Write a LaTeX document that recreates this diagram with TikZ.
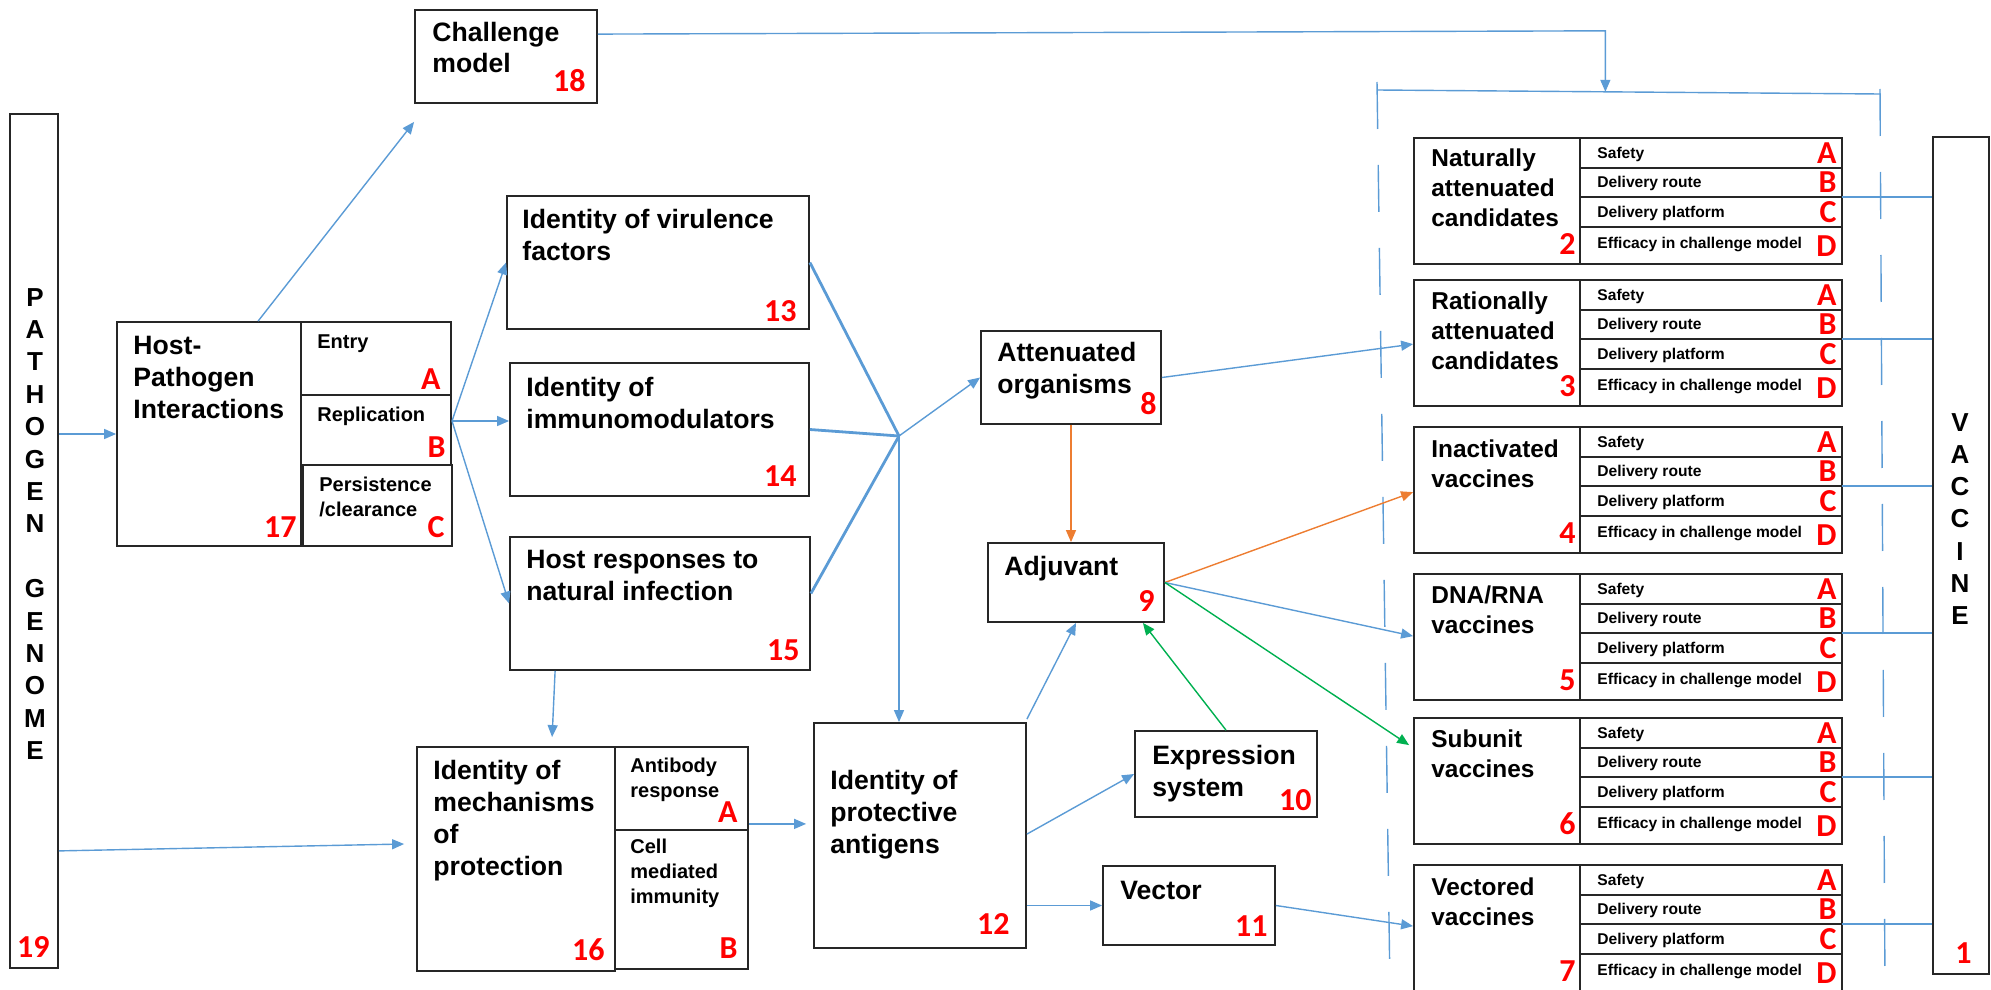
\documentclass[tikz,border=0pt]{standalone}
\usepackage{fontspec}
\setmainfont{Liberation Sans}
\newfontfamily\numfont{Carlito}
\usetikzlibrary{arrows.meta,fit,calc}

\definecolor{lnblue}{HTML}{5B9BD5}
\definecolor{lnorange}{HTML}{ED7D31}
\definecolor{lngreen}{HTML}{00B050}

\begin{document}
\begin{tikzpicture}[x=0.5pt,y=-0.5pt,
  box/.style     = {draw=black!85, line width=0.9pt, inner sep=0pt},
  ttl/.style     = {anchor=base west, align=left, inner sep=0pt,
                    font=\fontsize{13.3}{15.8}\selectfont\bfseries},
  sml/.style     = {anchor=base west, align=left, inner sep=0pt,
                    font=\fontsize{10}{12.4}\selectfont\bfseries},
  ptl/.style     = {anchor=base west, align=left, inner sep=0pt,
                    font=\fontsize{12.2}{14.8}\selectfont\bfseries},
  rowtxt/.style  = {anchor=base west, inner sep=0pt,
                    font=\fontsize{7.8}{9}\selectfont\bfseries},
  num/.style     = {anchor=base east, inner sep=0pt, text=red,
                    font=\numfont\bfseries\fontsize{16}{18}\selectfont},
  vert/.style    = {align=center, inner sep=0pt,
                    font=\fontsize{13}{16.2}\selectfont\bfseries},
  conn/.style    = {draw=lnblue, line width=0.7pt, -{Triangle[length=6pt,width=5pt]}},
  thick conn/.style = {draw=lnblue, line width=1.4pt},
  tie/.style     = {draw=lnblue, line width=0.7pt},
  dashln/.style  = {draw=lnblue, line width=0.7pt, dash pattern=on 23.5pt off 18pt}
]
  \useasboundingbox (0,0) rectangle (1991,990);

  % side columns (text nodes sit on the baseline of their last line)
  \node[box, fit={(10,114)(58,968)}] (gen) {};
  \node[vert] (genT) at (35,524) {P\\A\\T\\H\\O\\G\\E\\N\\[16.2pt]G\\E\\N\\O\\M\\E};
  \node[num] (genN) at (50,957) {19};
  \node[box, fit={(1933,137)(1989,974)}] (vac) {};
  \node[vert, font=\fontsize{13}{16.1}\selectfont\bfseries] (vacT) at (1960,519) {V\\A\\C\\C\\I\\N\\E};
  \node[num] (vacN) at (1972,963) {1};

  % challenge model
  \node[box, fit={(415,10)(597,103)}] (chal) {};
  \node[ttl] (chalT) at (432,73) {Challenge\\model};
  \node[num] (chalN) at (586,91) {18};

  % host-pathogen interactions
  \node[box, fit={(117,322)(301,546)}] (hp) {};
  \node[box, fit={(301,322)(451,395)}] (entry) {};
  \node[box, fit={(301,395)(451,465)}] (repl) {};
  \node[box, fit={(303,465)(452,546)}] (pers) {};
  \node[ttl] (hpT) at (133,418) {Host-\\Pathogen\\Interactions};
  \node[num] (hpN) at (297,537) {17};
  \node[sml] (entryT) at (317,348) {Entry};
  \node[num] (entryN) at (441,389) {A};
  \node[sml] (replT) at (317,421) {Replication};
  \node[num] (replN) at (446,457) {B};
  \node[sml] (persT) at (319,516) {Persistence\\/clearance};
  \node[num] (persN) at (445,537) {C};

  % identity boxes
  \node[box, fit={(507,196)(809,329)}] (vir) {};
  \node[ttl] (virT) at (522,260) {Identity of virulence\\factors};
  \node[num] (virN) at (797,321) {13};
  \node[box, fit={(510,363)(809,496)}] (imm) {};
  \node[ttl] (immT) at (526,428) {Identity of\\immunomodulators};
  \node[num] (immN) at (797,486) {14};
  \node[box, fit={(510,537)(810,670)}] (hostr) {};
  \node[ttl] (hostrT) at (526,600) {Host responses to\\natural infection};
  \node[num] (hostrN) at (800,660) {15};

  % mechanisms of protection
  \node[box, fit={(417,747)(615,971)}] (mech) {};
  \node[box, fit={(615,747)(748,830)}] (ab) {};
  \node[box, fit={(615,830)(748,969)}] (cmi) {};
  \node[ttl, font=\fontsize{13.3}{16}\selectfont\bfseries] (mechT) at (433,875) {Identity of\\mechanisms\\of\\protection};
  \node[num] (mechN) at (605,960) {16};
  \node[sml] (abT) at (630,797) {Antibody\\response};
  \node[num] (abN) at (738,822) {A};
  \node[sml] (cmiT) at (630,903) {Cell\\mediated\\immunity};
  \node[num] (cmiN) at (738,958) {B};

  % middle column
  \node[box, fit={(814,723)(1026,948)}] (prot) {};
  \node[ttl, font=\fontsize{13.3}{16}\selectfont\bfseries] (protT) at (830,853) {Identity of\\protective\\antigens};
  \node[num] (protN) at (1010,934) {12};
  \node[box, fit={(981,331)(1161,424)}] (att) {};
  \node[ttl] (attT) at (997,393) {Attenuated\\organisms};
  \node[num] (attN) at (1157,414) {8};
  \node[box, fit={(988,543)(1164,622)}] (adj) {};
  \node[ttl] (adjT) at (1004,575) {Adjuvant};
  \node[num] (adjN) at (1155,611) {9};
  \node[box, fit={(1135,731)(1317,817)}] (expr) {};
  \node[ttl] (exprT) at (1152,796) {Expression\\system};
  \node[num] (exprN) at (1312,810) {10};
  \node[box, fit={(1103,866)(1275,945)}] (vect) {};
  \node[ttl] (vectT) at (1120,899) {Vector};
  \node[num] (vectN) at (1268,936) {11};

  % vaccine candidate panels
  \foreach \t/\b/\name/\lbl/\n in {138/88/nat/{Naturally\\attenuated\\candidates}/2,
                                   280/89/rat/{Rationally\\attenuated\\candidates}/3,
                                   427/60/ina/{Inactivated\\vaccines}/4,
                                   574/59/dna/{DNA/RNA\\vaccines}/5,
                                   718/59/sub/{Subunit\\vaccines}/6,
                                   865/60/vcd/{Vectored\\vaccines}/7} {
    \node[box, fit={(1414,\t)(1580,{\t+126})}] (\name) {};
    \node[box, fit={(1580,\t)(1842,{\t+126})}] (\name-r) {};
    \foreach \dy in {30,59,89}
      \draw[draw=black!85, line width=0.9pt] (1580,{\t+\dy}) -- (1842,{\t+\dy});
    \node[ptl] (\name-t) at (1431,{\t+\b}) {\lbl};
    \node[num] (\name-n) at (1576,{\t+116}) {\n};
    \foreach \dy/\txt/\L/\dl in {20/Safety/A/25, 49/Delivery route/B/54,
                                 79/Delivery platform/C/84, 110/Efficacy in challenge model/D/118} {
      \node[rowtxt] (\name-\L) at (1597,{\t+\dy}) {\txt};
      \node[num] (\name-\L n) at (1837,{\t+\dl}) {\L};
    }
    \coordinate (\name-c) at (1842,{\t+59});
    \draw[tie] (\name-c) -- (\name-c -| vac.west);
  }

  % dashed frame
  \coordinate (brkL) at (1377,90);
  \coordinate (brkR) at (1880,94);
  \coordinate (brk) at ($(brkL)!0.454!(brkR)$);
  \draw[tie] (brkL) -- (brkR);
  \draw[dashln] (1377,82) -- (1390,990);
  \draw[dashln] (1880,89) -- (1885,990);

  % connectors
  \coordinate (fan) at (452,421);
  \coordinate (jn) at (899,436);
  \draw[conn] (gen.east |- hp.west) -- (hp.west);
  \draw[conn] ($(hp.north west)+(142,0)$) -- ($(chal.south west)+(0,18)$);
  \draw[conn] ($(chal.north east)+(0,25)$) -- ($(brk)+(0,-61)$) -- (brk);
  \draw[conn] (fan) -- (vir.west);
  \draw[conn] (fan) -- (imm.west |- fan);
  \draw[conn] (fan) -- (hostr.west);
  \draw[thick conn] (vir.east) -- (jn);
  \draw[thick conn] (imm.east) -- (jn);
  \draw[thick conn] ($(hostr.east)+(0,-10)$) -- (jn);
  \draw[conn] (jn) -- (att.west);
  \draw[conn] (jn) -- (prot.north -| jn);
  \draw[conn] (att.east) -- ($(rat.north west)+(0,65)$);
  \draw[conn, draw=lnorange, fill=lnorange] (att.south) -- (att.south |- adj.north);
  \draw[conn] ($(prot.north east)+(0,-3)$) -- (adj.south);
  \draw[conn, draw=lngreen, fill=lngreen] (expr.north) -- ($(adj.south east)+(-22,0)$);
  \draw[conn, draw=lnorange, fill=lnorange] (adj.east) -- ($(ina.north west)+(0,66)$);
  \draw[conn] (adj.east) -- ($(dna.north west)+(0,63)$);
  \draw[conn, draw=lngreen, fill=lngreen] (adj.east) -- ($(sub.north west)+(-4,28)$);
  \draw[conn] ($(prot.north east)+(0,112)$) -- (expr.west);
  \draw[conn] (prot.east |- vect.west) -- (vect.west);
  \draw[conn] (vect.east) -- ($(vcd.north west)+(0,62)$);
  \draw[conn] ($(hostr.south west)+(46,0)$) -- ($(mech.north west)+(136,-9)$);
  \draw[conn] ($(gen.south east)+(0,-118)$) -- ($(mech.west)+(-12,-15)$);
  \draw[conn, shorten >=3.5pt] ($(ab.south east)+(0,-7)$) -- ($(prot.west |- ab.south east)+(0,-7)$);
\end{tikzpicture}
\end{document}
